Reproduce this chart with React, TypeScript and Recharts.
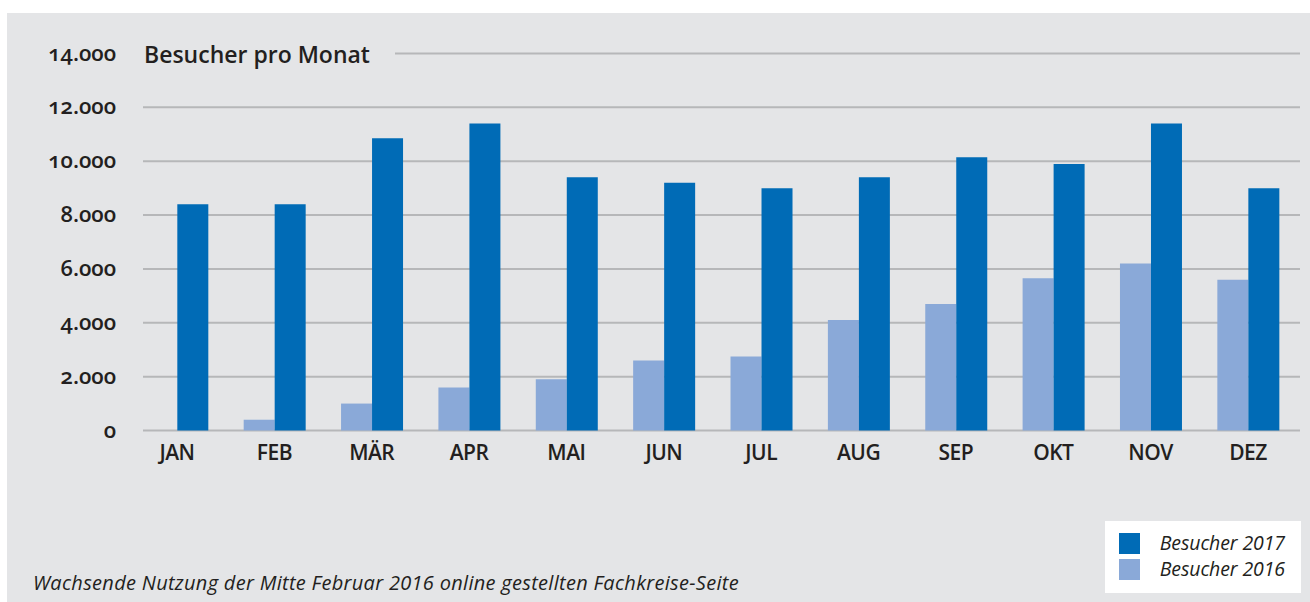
import React from 'react';
import { BarChart, Bar, XAxis, YAxis, CartesianGrid, Legend } from 'recharts';

const months = ['JAN', 'FEB', 'MÄR', 'APR', 'MAI', 'JUN', 'JUL', 'AUG', 'SEP', 'OKT', 'NOV', 'DEZ'];
const visitors2016 = [0, 400, 1000, 1600, 1900, 2600, 2750, 4100, 4700, 5650, 6200, 5600];
const visitors2017 = [8400, 8400, 10850, 11400, 9400, 9200, 9000, 9400, 10150, 9900, 11400, 9000];
const yTicks = [0, 2000, 4000, 6000, 8000, 10000, 12000, 14000];

const series = [
  { key: 'v2016', name: 'Besucher 2016', color: '#8aa9d8' },
  { key: 'v2017', name: 'Besucher 2017', color: '#006bb6' },
];

const chartData = months.map((m, i) => ({ month: m, v2016: visitors2016[i], v2017: visitors2017[i] }));

const TEXT = '#231f20';
const FONT = '"Open Sans", "Noto Sans", sans-serif';
const MARGIN = { top: 53.5, right: 13.3, bottom: 141.5, left: 18.3 };

// german thousands separator
const fmt = (v: number) => String(v).replace(/\B(?=(\d{3})+(?!\d))/g, '.');

const YTick = ({ y, payload }: any) => (
  <text x={116} y={y} dy={7} textAnchor="end" fill={TEXT} fontFamily={FONT} fontSize={22} fontWeight={600}
    style={{ fontVariantNumeric: 'oldstyle-nums' }}>
    {fmt(payload.value)}
  </text>
);

const XTick = ({ x, y, payload }: any) => (
  <text x={x} y={y} dy={21} textAnchor="middle" fill={TEXT} fontFamily={FONT} fontSize={21} fontWeight={600}
    letterSpacing={-0.5}>
    {payload.value}
  </text>
);

const gridLine = (props: any) => {
  const isTop = Math.abs(props.y1 - MARGIN.top) < 1;
  return (
    <line key={`g-${props.index}`} x1={isTop ? 395 : 143} x2={1300} y1={props.y1} y2={props.y2}
      stroke="#b6b7b9" strokeWidth={2} />
  );
};

const LegendBox = () => (
  <div style={{
    position: 'absolute', left: 1105, top: 521, width: 196, height: 72, background: '#fff',
    fontFamily: FONT, fontStyle: 'italic', fontSize: 19.5, color: TEXT, boxSizing: 'border-box',
  }}>
    {[...series].reverse().map((s, i) => (
      <div key={s.key} style={{ position: 'absolute', left: 14, top: 12 + i * 26, height: 21, width: 168 }}>
        <div style={{ position: 'absolute', left: 0, top: 0, width: 21, height: 21, background: s.color }} />
        <div style={{ position: 'absolute', right: 2, top: -3, lineHeight: '26px', letterSpacing: -0.1,
          whiteSpace: 'nowrap' }}>
          {s.name}
        </div>
      </div>
    ))}
  </div>
);

export default function App() {
  return (
    <div style={{ position: 'absolute', left: 0, top: 0, width: 1310, height: 602, background: '#fff', overflow: 'hidden' }}>
      <div style={{ position: 'absolute', left: 7, top: 13, right: 0, bottom: 0, background: '#e4e5e7' }} />
      <div style={{ position: 'absolute', left: 0, top: 0 }}>
        <BarChart width={1310} height={602} data={chartData} margin={MARGIN}
          barCategoryGap="18.5%" barGap={0}>
          <CartesianGrid vertical={false} horizontal={gridLine} />
          <XAxis dataKey="month" axisLine={false} tickLine={false} height={30} tick={<XTick />} interval={0} />
          <YAxis domain={[0, 14000]} ticks={yTicks} width={110} axisLine={false} tickLine={false} tick={<YTick />} />
          {series.map(s => (
            <Bar key={s.key} dataKey={s.key} name={s.name} fill={s.color} isAnimationActive={false} />
          ))}
          <Legend content={() => null} />
        </BarChart>
      </div>
      <div style={{ position: 'absolute', left: 144, top: 38, fontFamily: FONT, fontSize: 23, fontWeight: 600,
        color: TEXT, whiteSpace: 'nowrap' }}>
        Besucher pro Monat
      </div>
      <LegendBox />
      <div style={{ position: 'absolute', left: 33, top: 569, fontFamily: FONT, fontStyle: 'italic', fontSize: 20,
        color: TEXT, whiteSpace: 'nowrap', letterSpacing: 0.3 }}>
        Wachsende Nutzung der Mitte Februar 2016 online gestellten Fachkreise-Seite
      </div>
    </div>
  );
}
